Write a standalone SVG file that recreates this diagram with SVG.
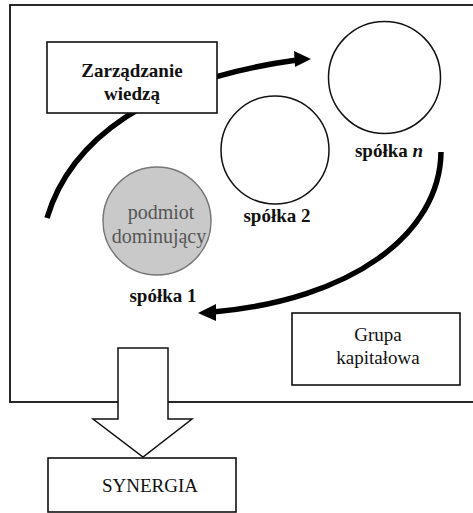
<svg xmlns="http://www.w3.org/2000/svg" width="473" height="513" viewBox="0 0 473 513">
<style>
.box{fill:#fff;stroke:#111;stroke-width:1.6}
.circ{fill:#fff;stroke:#111;stroke-width:1.5}
.arc{fill:none;stroke:#000;stroke-width:5.5;stroke-linecap:butt}
.b{font-family:"Liberation Serif",serif;font-weight:bold;font-size:19px;fill:#111;text-anchor:middle}
.r{font-family:"Liberation Serif",serif;font-size:19px;fill:#111;text-anchor:middle}
.g{font-family:"Liberation Serif",serif;font-size:20px;fill:#555;text-anchor:middle}
</style>
<rect width="473" height="513" fill="#fff"/>
<g id="frame"><rect x="10" y="5" width="480" height="397" fill="none" stroke="#111" stroke-width="1.8"/></g>
<g id="connectors">
<path class="arc" d="M47 218 C70 140 150 80 297 60"/>
<polygon points="311,59 294,51 295,67" fill="#000"/>
<path class="arc" d="M441 152 C440 235 350 300 213 312"/>
<polygon points="198,313 216,304 216,321" fill="#000"/>
</g>
<g id="zarzadzanie">
<rect class="box" x="47" y="42" width="170" height="71"/>
<text class="b" x="132" y="77">Zarządzanie</text>
<text class="b" x="132" y="100">wiedzą</text>
</g>
<g id="spolka-n">
<circle class="circ" cx="384.5" cy="77.5" r="56"/>
<text class="b" x="389" y="157">spółka <tspan font-style="italic">n</tspan></text>
</g>
<g id="spolka-2">
<circle class="circ" cx="275" cy="150" r="54"/>
<text class="b" x="277" y="222">spółka 2</text>
</g>
<g id="spolka-1">
<circle cx="157" cy="221" r="54" fill="#c9c9c9" stroke="#777" stroke-width="1.5"/>
<text class="g" x="161" y="219">podmiot</text>
<text class="g" x="159" y="243">dominujący</text>
<text class="b" x="163" y="302">spółka 1</text>
</g>
<g id="grupa">
<rect class="box" x="292" y="313" width="168" height="72"/>
<text class="r" x="378" y="341">Grupa</text>
<text class="r" x="378" y="364">kapitałowa</text>
</g>
<g id="arrow-synergia">
<polygon points="118,348 168,348 168,419 192,419 143,457 93,419 118,419" fill="#fff" stroke="#111" stroke-width="1.5" stroke-linejoin="miter"/>
</g>
<g id="synergia">
<rect class="box" x="48" y="458" width="188" height="54"/>
<text class="r" x="150" y="492" font-size="21">SYNERGIA</text>
</g>
</svg>
